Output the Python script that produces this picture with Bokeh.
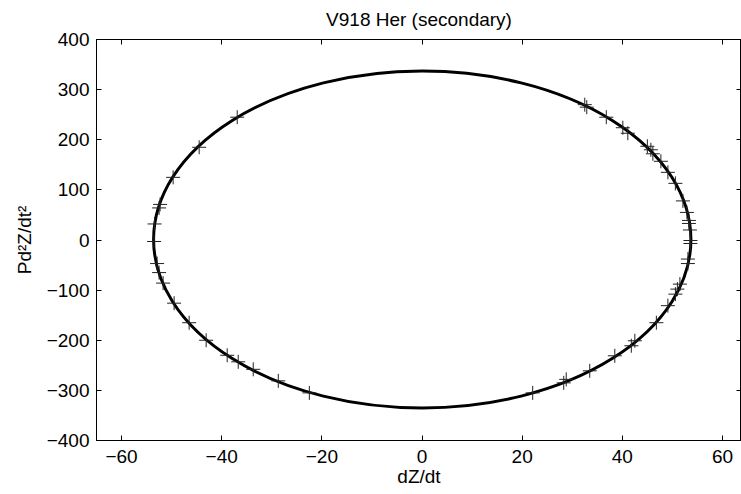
from bokeh.plotting import figure
from bokeh.models import Range1d, LinearAxis, FixedTicker
from bokeh.embed import file_html
from bokeh.resources import INLINE

# Observed points (dZ/dt, P d2Z/dt2)
obs_x = [-36.9, -44.5, -49.7, -52.3, -52.5, -53.4, -53.5, -52.9, -52.5, -51.7,
         -49.5, -46.5, -43.1, -38.9, -36.7, -33.7, -28.7, -22.5,
         32.5, 32.9, 36.8, 40.1, 41.1, 45.0, 45.7, 46.1, 47.7, 49.1, 50.6,
         52.1, 52.9, 53.3, 53.3, 53.5, 53.6, 53.6,
         53.1, 53.1, 51.5, 51.0, 50.6, 49.1, 46.8, 42.5, 41.8, 38.5, 33.5,
         28.8, 28.3, 22.1]
obs_y = [245, 185, 125, 71, 64, 32, -3, -47, -65, -86,
         -126, -165, -200, -230, -243, -258, -281, -305,
         270, 265, 245, 224, 213, 187, 180, 172, 157, 135, 113,
         78, 55, 39, 33, 20, -1, -7,
         -38, -47, -88, -98, -108, -131, -165, -201, -211, -231, -261,
         -278, -285, -305]

# Fitted orbit ellipse: centre and full axes
fit_cx = [0.05]
fit_cy = [1.0]
fit_w = [107.3]
fit_h = [672.0]

x_ticks = [-60, -40, -20, 0, 20, 40, 60]
y_ticks = [-400, -300, -200, -100, 0, 100, 200, 300, 400]

TITLE = "V918 Her (secondary)"
FONT = "Liberation Sans"
FS = "19px"


def lab(v):
    return ("\u2212" + str(abs(v))) if v < 0 else str(v)


p = figure(width=741, height=494, output_backend="svg", toolbar_location=None,
           x_range=Range1d(-65, 63.8), y_range=Range1d(-400, 400),
           min_border_left=96, min_border_top=39, min_border_bottom=54,
           min_border_right=0)
p.title.text = TITLE
p.title.align = "center"
p.title.vertical_align = "top"
p.title.text_font = FONT
p.title.text_font_size = "19px"
p.title.text_font_style = "normal"
p.title.text_color = "black"
p.title.standoff = 16
p.title.offset = 0

p.xgrid.visible = False
p.ygrid.visible = False
p.outline_line_color = "black"
p.outline_line_width = 1
p.background_fill_color = "white"
p.border_fill_color = "white"

for ax, ticks in ((p.xaxis[0], x_ticks), (p.yaxis[0], y_ticks)):
    ax.ticker = FixedTicker(ticks=ticks)
    ax.major_label_overrides = {t: lab(t) for t in ticks}
    ax.major_tick_in = 5
    ax.major_tick_out = 0
    ax.minor_tick_in = 0
    ax.minor_tick_out = 0
    ax.axis_line_color = "black"
    ax.major_tick_line_color = "black"
    ax.major_label_text_font = FONT
    ax.major_label_text_font_size = FS
    ax.major_label_text_color = "black"
    ax.axis_label_text_font = FONT
    ax.axis_label_text_font_size = FS
    ax.axis_label_text_font_style = "normal"
    ax.axis_label_text_color = "black"

p.xaxis[0].axis_label = "dZ/dt"
p.xaxis[0].major_label_standoff = 9
p.xaxis[0].axis_label_standoff = 0
p.yaxis[0].axis_label = "Pd\u00b2Z/dt\u00b2"
p.yaxis[0].major_label_standoff = 7
p.yaxis[0].axis_label_standoff = 9

top = LinearAxis(ticker=FixedTicker(ticks=x_ticks),
                 major_label_overrides={t: "" for t in x_ticks},
                 major_tick_in=5, major_tick_out=0, minor_tick_in=0, minor_tick_out=0,
                 major_label_standoff=0, axis_line_color="black")
right = LinearAxis(ticker=FixedTicker(ticks=y_ticks),
                   major_label_overrides={t: "" for t in y_ticks},
                   major_tick_in=5, major_tick_out=0, minor_tick_in=0, minor_tick_out=0,
                   major_label_standoff=0, axis_line_color="black")
p.add_layout(top, "above")
p.add_layout(right, "right")

p.ellipse(x=fit_cx, y=fit_cy, width=fit_w, height=fit_h,
          fill_alpha=0, line_color="black", line_width=3)
p.scatter(obs_x, obs_y, marker="cross", size=14, line_color="#222222", line_width=1)

open("out.html", "w").write(file_html(p, INLINE))
